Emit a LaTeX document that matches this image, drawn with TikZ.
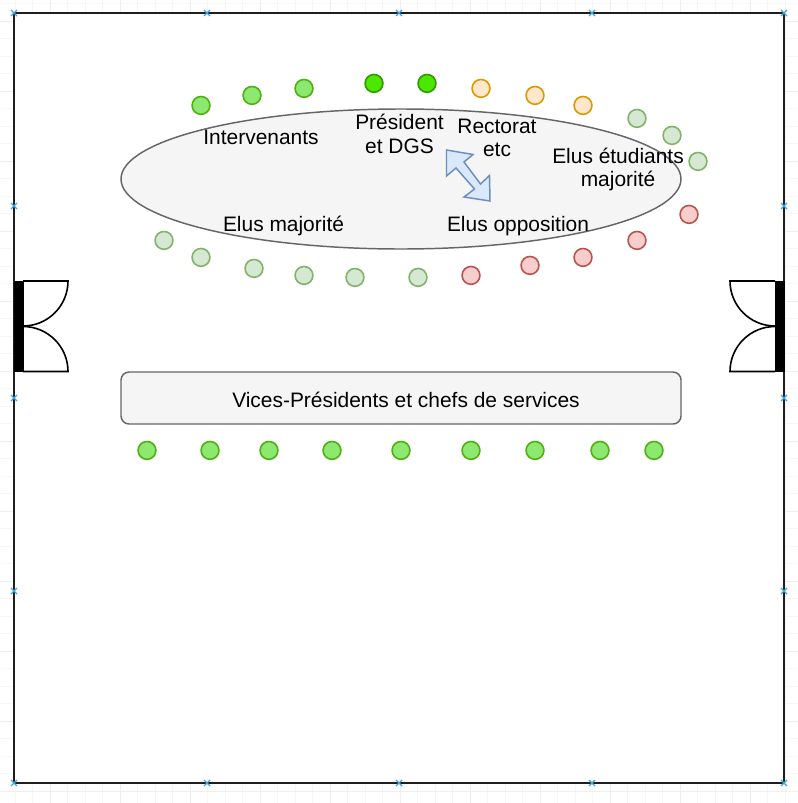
\documentclass[tikz,border=0pt]{standalone}
\usepackage{fontspec}
\usetikzlibrary{shapes.geometric}
\setmainfont{Liberation Sans}
\definecolor{gridmin}{HTML}{F6F6F6}
\definecolor{gridmaj}{HTML}{EEEEEE}
\tikzset{
  seat/.style={circle,draw,line width=1.2pt,minimum size=13.4pt,inner sep=0pt,yshift=-0.3pt},
  vp/.style={seat,fill=green1f,draw=green1d},
  pres/.style={seat,fill=green2f,draw=green2d},
  rect/.style={seat,fill=orangef,draw=oranged},
  maj/.style={seat,fill=lgreenf,draw=lgreend},
  opp/.style={seat,fill=redf,draw=redd},
  lab/.style={align=center,font=\fontsize{15.7}{17.8}\selectfont,inner sep=0pt,text=black},
  wall/.style={draw=black!88,line width=1.6pt},
  door/.style={draw=black,line width=1.2pt},
}
\definecolor{green1f}{HTML}{8CE86F}\definecolor{green1d}{HTML}{4FB010}
\definecolor{green2f}{HTML}{4CE600}\definecolor{green2d}{HTML}{2D9A00}
\definecolor{orangef}{HTML}{FFE6CC}\definecolor{oranged}{HTML}{D79B00}
\definecolor{lgreenf}{HTML}{D5E8D4}\definecolor{lgreend}{HTML}{82B366}
\definecolor{redf}{HTML}{F8CECC}\definecolor{redd}{HTML}{B85450}
\definecolor{panelf}{HTML}{F5F5F5}\definecolor{paneld}{HTML}{666666}
\definecolor{arrowf}{HTML}{DAE8FC}\definecolor{arrowd}{HTML}{6C8EBF}
\definecolor{crossc}{HTML}{3DA5E0}
\begin{document}
\begin{tikzpicture}[x=0.75pt,y=-0.75pt]
\useasboundingbox (0,0) rectangle (798,803);
% background grid
\foreach \i in {0,...,45} {\draw[gridmin,line width=0.5pt] ({15+17.5*\i},0) -- ({15+17.5*\i},803);}
\foreach \i in {0,...,45} {\draw[gridmin,line width=0.5pt] (0,{3.5+17.5*\i}) -- (798,{3.5+17.5*\i});}
\foreach \i in {0,...,10} {\draw[gridmaj,line width=0.5pt] ({50+70*\i},0) -- ({50+70*\i},803);}
\foreach \i in {0,...,11} {\draw[gridmaj,line width=0.5pt] (0,{21+70*\i}) -- (798,{21+70*\i});}
% room
\node[wall,fill=white,minimum width=577.5pt,minimum height=577.5pt,inner sep=0pt,outer sep=0pt] (room) at (399,398) {};
% connection marks
\foreach \x in {14,207,399,592,784} \foreach \y in {13,206,398,591,783} {
  \ifnum\x=14 \def\ok{1}\else\ifnum\x=784 \def\ok{1}\else\ifnum\y=13 \def\ok{1}\else\ifnum\y=783 \def\ok{1}\else\def\ok{0}\fi\fi\fi\fi
  \ifnum\ok=1
  \draw[crossc,line width=0.9pt] (\x-3,\y-3) -- (\x+3,\y+3) (\x-3,\y+3) -- (\x+3,\y-3);
  \fi
}
% table
\node[ellipse,draw=paneld,fill=panelf,line width=1.1pt,minimum width=420pt,minimum height=105pt,inner sep=0pt] (table) at (401,179) {};
\node[rectangle,rounded corners=6pt,draw=paneld,fill=panelf,line width=1.1pt,minimum width=420pt,minimum height=39pt,inner sep=0pt] (bar) at (401,398) {};
\node[lab] (barlab) at (406,400) {Vices-Présidents et chefs de services};
% arrow
\draw[draw=arrowd,fill=arrowf,line width=1.1pt,line join=miter]
 (446.5,150) -- (473,154.5) -- (464,162) -- (480.5,184) -- (489.5,175.5) -- (490,201) -- (464,197) -- (474.5,189) -- (456,168) -- (446.5,176) -- cycle;
% labels
\node[lab] (l1) at (261,137.5) {Intervenants};
\node[lab] (l2) at (399.5,134) {Président\\et DGS};
\node[lab] (l3) at (497,138) {Rectorat\\etc};
\node[lab] (l4) at (618,169.5) {Elus étudiants\\majorité};
\node[lab] (l5) at (283.5,226) {Elus majorité};
\node[lab] (l6) at (518,226) {Elus opposition};
% seats
\foreach \n/\x/\y in {a/201/105,b/252/95,c/304/88} \node[vp] (\n) at (\x,\y) {};
\foreach \n/\x/\y in {d/374/83,e/427/83} \node[pres] (\n) at (\x,\y) {};
\foreach \n/\x/\y in {f/481/88,g/535/95,h/583/105} \node[rect] (\n) at (\x,\y) {};
\foreach \n/\x/\y in {i/637/118,j/672/135,k/698/161,q/418/277,r/355/277,s/304/275,t/254/268,u/201/257,v/164/240} \node[maj] (\n) at (\x,\y) {};
\foreach \n/\x/\y in {l/689/214,m/637/240,n/583/257,o/530/265,p/471/275} \node[opp] (\n) at (\x,\y) {};
\foreach \n/\x in {b1/147,b2/210,b3/269,b4/332,b5/401,b6/471,b7/535,b8/600,b9/654} \node[vp] (\n) at (\x,450) {};
% doors
\fill[black] (14,281) rectangle (23.5,372);
\fill[black] (775,281) rectangle (784.5,372);
\draw[door] (23,281) -- (68,281) arc[start angle=0,end angle=90,x radius=45,y radius=45];
\draw[door] (23,371.5) -- (68,371.5) arc[start angle=0,end angle=-90,x radius=45,y radius=45];
\draw[door] (775,281) -- (730,281) arc[start angle=180,end angle=90,x radius=45,y radius=45];
\draw[door] (775,371.5) -- (730,371.5) arc[start angle=180,end angle=270,x radius=45,y radius=45];
\end{tikzpicture}
\end{document}
